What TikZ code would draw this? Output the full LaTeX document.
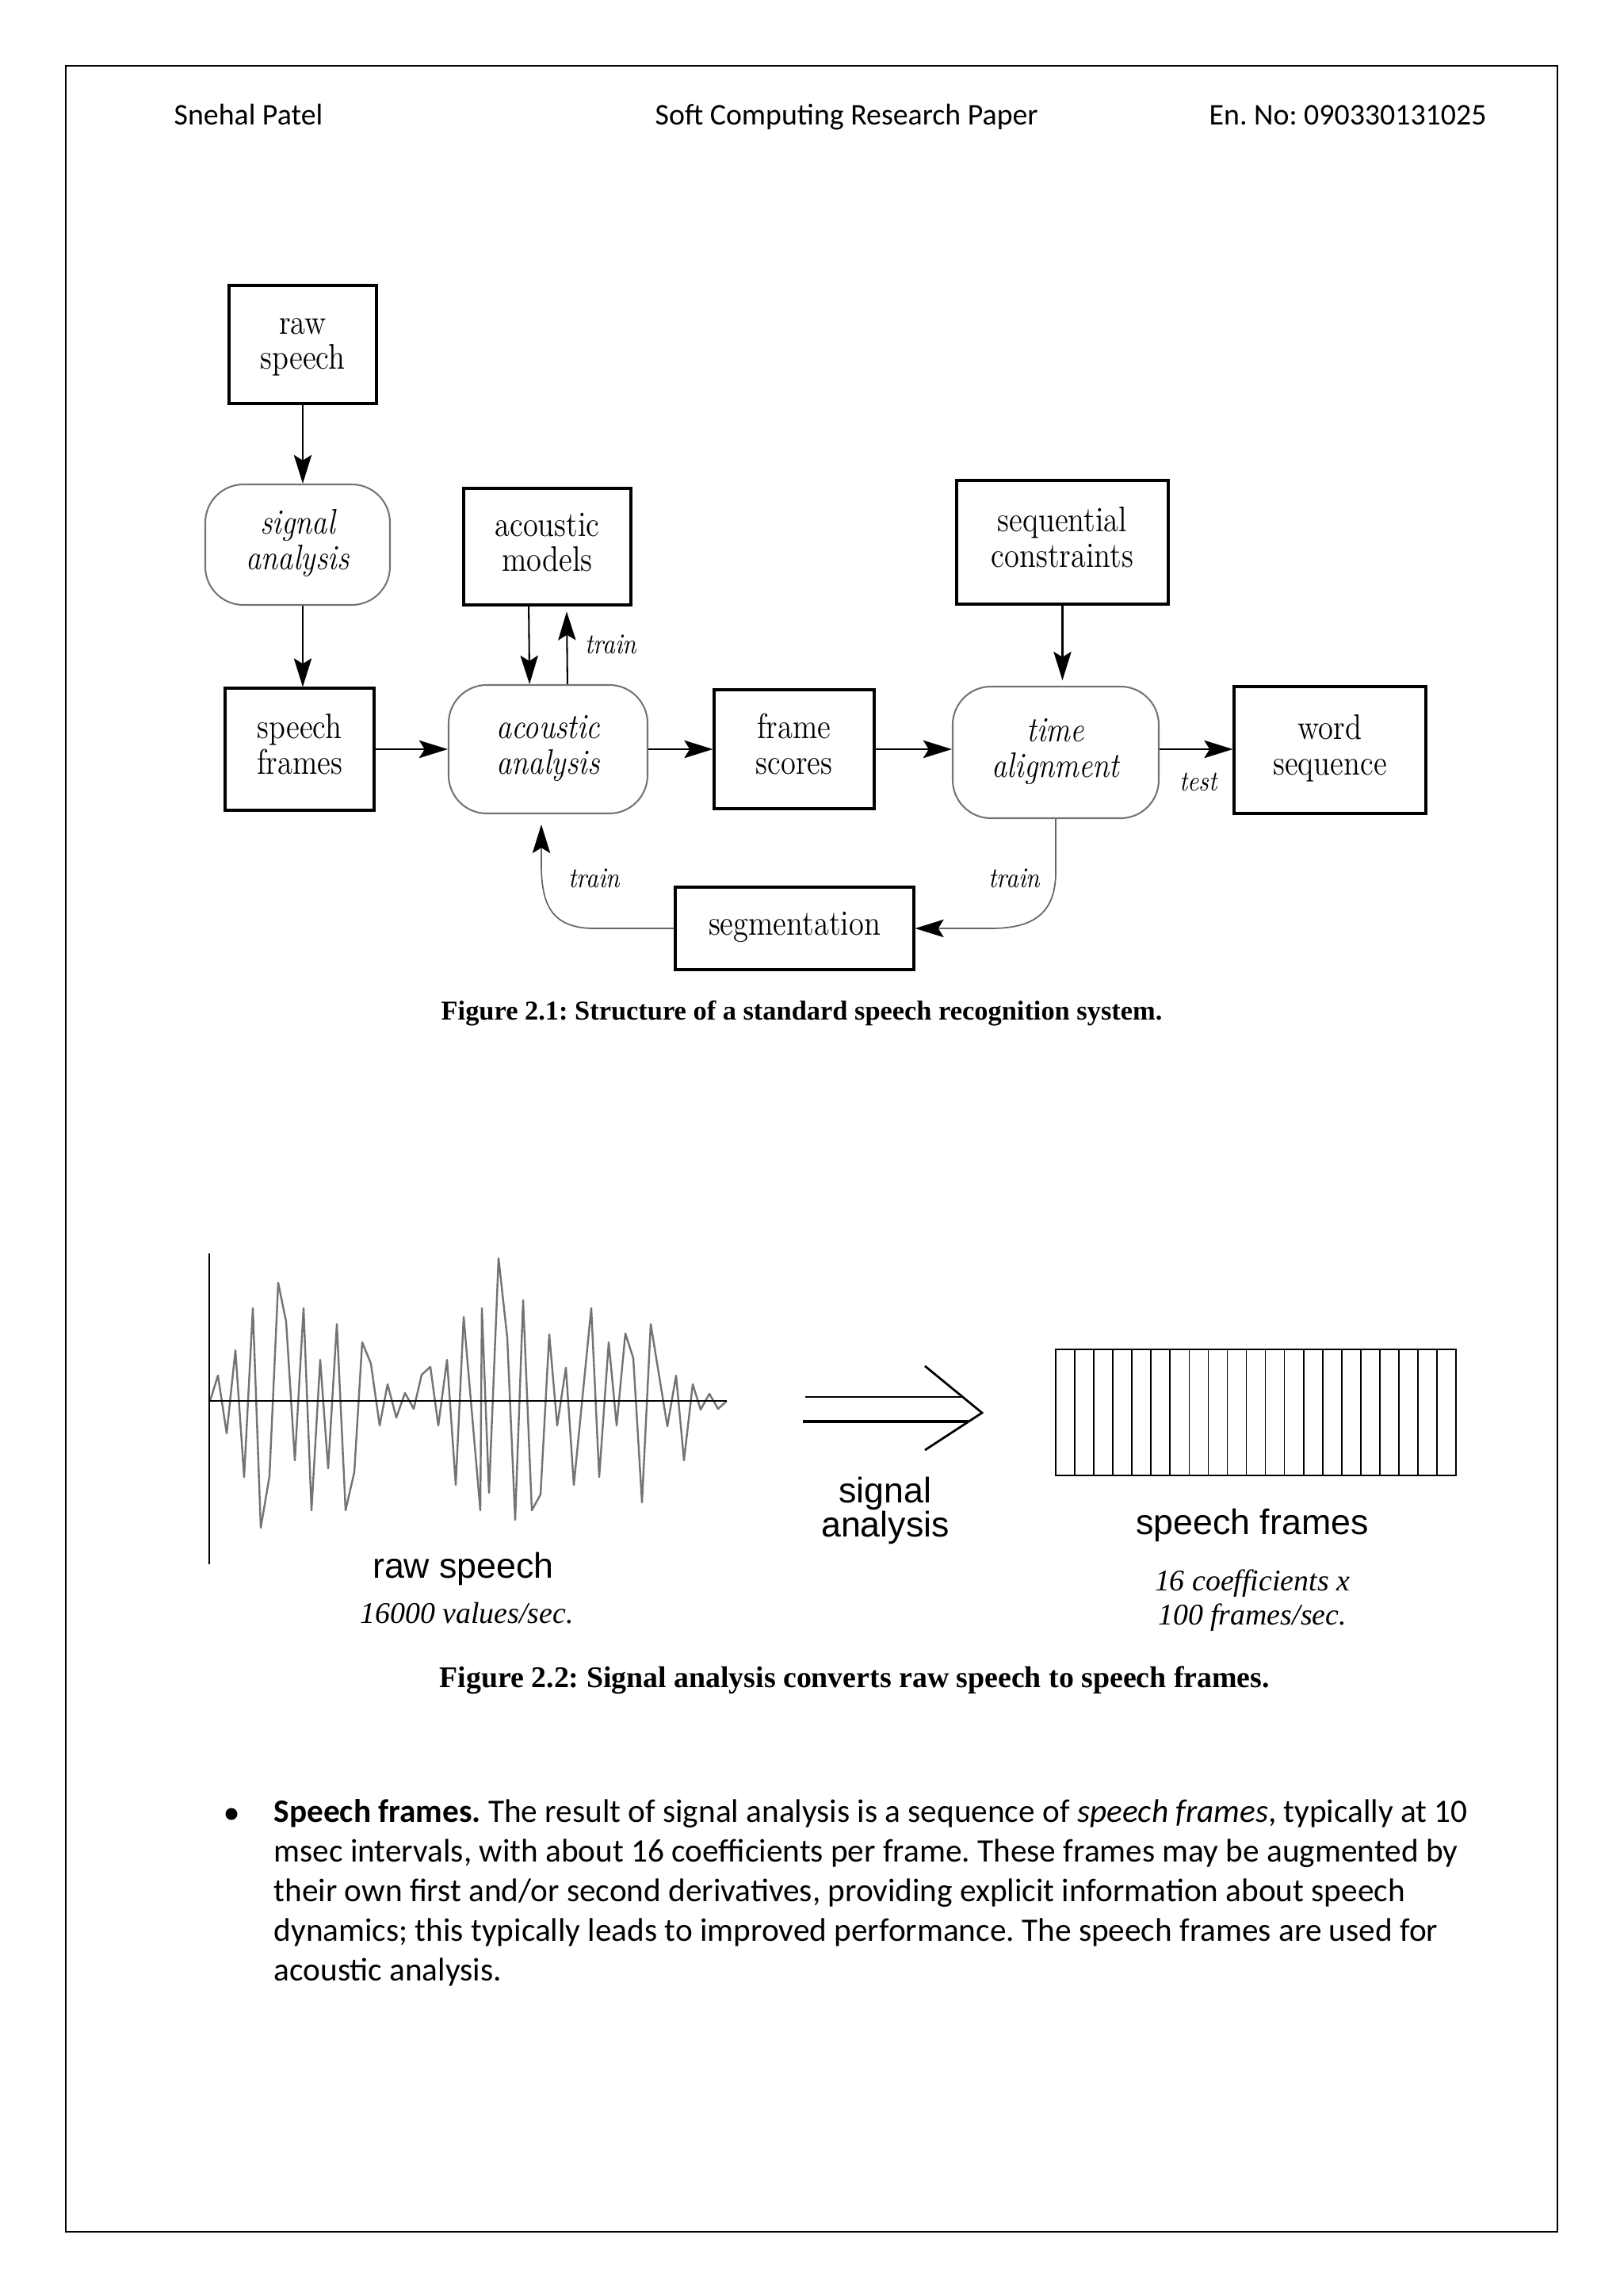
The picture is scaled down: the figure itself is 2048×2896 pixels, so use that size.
\documentclass[tikz,border=0pt]{standalone}
\usepackage{fontspec}
\usepackage{graphicx}
\usetikzlibrary{arrows.meta}
\newfontfamily\carlito{Carlito}
\newfontfamily\lsans{Liberation Sans}
\newfontfamily\lserif{Liberation Serif}
\newcommand\pxu[1]{#1*0.29066pt}
\newcommand\ntx[1]{\scalebox{0.86}[1]{\begin{tabular}{@{}c@{}}#1\end{tabular}}}
\frenchspacing
\tikzset{
  boxr/.style={draw=black, line width=0.9pt, inner sep=0pt, font=\fontsize{13}{13}\selectfont},
  boxround/.style={draw=black!55, line width=0.6pt, rounded corners=14pt, inner sep=0pt, font=\fontsize{13}{13}\selectfont\itshape},
  arr/.style={line width=0.6pt, -{Stealth[length=10.5pt,width=6.5pt,inset=2pt]}},
  trainarr/.style={draw=black!60, line width=0.5pt, -{Stealth[length=10.5pt,width=6.5pt,inset=2pt,color=black]}},
  lbl/.style={font=\fontsize{10.5}{10.5}\selectfont\itshape, inner sep=0pt},
  hdr/.style={font=\carlito\fontsize{11}{13}\selectfont\frenchspacing, anchor=base west, inner sep=0pt},
  bodyline/.style={font=\carlito\fontsize{12}{14}\selectfont\frenchspacing, anchor=base west, inner sep=0pt},
  captext/.style={font=\lserif\bfseries\fontsize{10}{12}\selectfont\frenchspacing, anchor=base west, inner sep=0pt},
  captextb/.style={font=\lserif\bfseries\fontsize{11}{13}\selectfont\frenchspacing, anchor=base west, inner sep=0pt},
  sanslbl/.style={font=\lsans\fontsize{13}{13}\selectfont, anchor=base, inner sep=0pt},
  serlbl/.style={font=\lserif\itshape\fontsize{11}{13}\selectfont\frenchspacing, anchor=base, inner sep=0pt},
  wave/.style={draw=black!55, line width=0.7pt, line join=round},
}
\begin{document}
\begin{tikzpicture}[x=0.29066pt, y=-0.29066pt]
\useasboundingbox (0,0) rectangle (2048,2896);
% page frame
\draw[line width=0.8pt] (83,83) rectangle (1965,2815);
% header
\node[hdr] (h1) at (219,157) {Snehal Patel};
\node[hdr] (h2) at (826,157) {Soft Computing Research Paper};
\node[hdr] (h3) at (1525,157) {En. No: 090330131025};

% ---------- Figure 2.1 ----------
\node[boxr, minimum width=\pxu{186}, minimum height=\pxu{149}] (rs) at (382,434.5) {\ntx{raw\\speech}};
\node[boxround, minimum width=\pxu{233}, minimum height=\pxu{152}] (sa) at (375.5,687) {\ntx{signal\\analysis}};
\node[boxr, minimum width=\pxu{188}, minimum height=\pxu{154}] (sf) at (378,945) {\ntx{speech\\frames}};
\node[boxr, minimum width=\pxu{211}, minimum height=\pxu{147}] (am) at (690.5,689.5) {\ntx{acoustic\\models}};
\node[boxround, minimum width=\pxu{251}, minimum height=\pxu{162}] (aa) at (691.5,945) {\ntx{acoustic\\analysis}};
\node[boxr, minimum width=\pxu{202}, minimum height=\pxu{150}] (fs) at (1002,945) {\ntx{frame\\scores}};
\node[boxr, minimum width=\pxu{267}, minimum height=\pxu{156}] (sc) at (1340.5,684) {\ntx{sequential\\constraints}};
\node[boxround, minimum width=\pxu{260}, minimum height=\pxu{166}] (ta) at (1332,949) {\ntx{time\\alignment}};
\node[boxr, minimum width=\pxu{242}, minimum height=\pxu{160}] (ws) at (1678,946) {\ntx{word\\sequence}};
\node[boxr, minimum width=\pxu{301}, minimum height=\pxu{104}] (seg) at (1002.5,1171) {\ntx{segmentation}};

\draw[arr] (rs.south) -- (rs.south |- sa.north);
\draw[arr] (rs.south |- sa.south) -- (rs.south |- sf.north);
\draw[arr] (sf.east) -- (aa.west);
\draw[arr] (aa.east) -- (fs.west);
\draw[arr] (fs.east) -- (fs.east -| ta.west);
\draw[arr] (fs.east -| ta.east) -- (fs.east -| ws.west);
\draw[arr] ([xshift=-6.8pt]am.south) -- ([xshift=-6.8pt]aa.north);
\draw[arr, shorten >=2pt] ([xshift=7.1pt]aa.north) -- ([xshift=7.1pt]am.south);
\draw[arr, shorten >=2pt] (sc.south) -- (sc.south |- ta.north);

\node[lbl] (ltrain1) at (771,813) {\scalebox{0.86}[1]{train}};
\node[lbl] (ltest) at (1512,986) {\scalebox{0.86}[1]{test}};
\node[lbl] (ltrain2) at (750,1108) {\scalebox{0.86}[1]{train}};
\node[lbl] (ltrain3) at (1280,1108) {\scalebox{0.86}[1]{train}};

\coordinate (trtip) at (683,1040);
\draw[trainarr] (seg.west) -- (750,1171) .. controls (695,1171) and (683,1140) .. (683,1090) -- (trtip);
\draw[trainarr] (ta.south) -- (1332,1100) .. controls (1332,1155) and (1300,1171) .. (1250,1171) -- (seg.east);

\node[captext] (cap1) at (556,1286) {Figure 2.1: Structure of a standard speech recognition system.};

% ---------- Figure 2.2 ----------
\draw[wave] (265,1767) -- (275,1735) -- (286,1808) -- (297,1703) -- (308,1863) -- (319,1650) -- (329,1927) -- (340,1862) -- (351,1618) -- (361,1667) -- (372,1842) -- (383,1650) -- (393,1905) -- (404,1715) -- (414,1852) -- (425,1670) -- (436,1905) -- (447,1857) -- (457,1693) -- (468,1720) -- (479,1798) -- (489,1746) -- (500,1788) -- (511,1757) -- (522,1777) -- (532,1734) -- (543,1724) -- (553,1798) -- (564,1715) -- (575,1873) -- (585,1661) -- (606,1905) -- (608,1650) -- (617,1883) -- (629,1587) -- (640,1687) -- (650,1917) -- (660,1640) -- (671,1905) -- (682,1885) -- (693,1683) -- (703,1798) -- (714,1725) -- (724,1873) -- (746,1650) -- (756,1863) -- (768,1693) -- (778,1798) -- (789,1682) -- (799,1713) -- (810,1895) -- (821,1670) -- (842,1799) -- (853,1735) -- (863,1842) -- (874,1746) -- (884,1778) -- (895,1758) -- (906,1777) -- (917,1767);
\draw[line width=0.7pt] (264,1581) -- (264,1973);
\draw[line width=0.8pt] (264,1767) -- (917,1767);

\node[sanslbl] (lraw) at (584.5,1990) {raw speech};
\node[serlbl] (lraw2) at (589,2047) {16000 values/sec.};

% double arrow
\draw[line width=0.75pt] (1016,1762) -- (1214,1762);
\draw[line width=1.2pt] (1013,1793) -- (1222,1793);
\draw[line width=0.8pt, line join=miter] (1167,1723) -- (1239,1782) -- (1167,1829);
\node[sanslbl] (lsig1) at (1117,1895) {signal};
\node[sanslbl] (lsig2) at (1117,1938) {analysis};

% frames
\draw[line width=0.8pt] (1332,1702) rectangle (1837,1861);
\foreach \i in {1,...,20} \draw[line width=0.5pt] ({1332+\i*24.05},1702) -- ({1332+\i*24.05},1861);
\node[sanslbl] (lsf) at (1580,1935) {speech frames};
\node[serlbl] (lsf2) at (1580,2006) {16 coefficients x};
\node[serlbl] (lsf3) at (1580,2049) {100 frames/sec.};

\node[captextb] (cap2) at (554,2128) {Figure 2.2: Signal analysis converts raw speech to speech frames.};

% ---------- bullet text ----------
\fill[black] (292,2288) circle (7.5);
\node[bodyline] (b1) at (345,2298) {\textbf{Speech frames.} The result of signal analysis is a sequence of \textit{speech frames}, typically at 10};
\node[bodyline] (b2) at (345,2348) {msec intervals, with about 16 coefficients per frame. These frames may be augmented by};
\node[bodyline] (b3) at (345,2398) {their own first and/or second derivatives, providing explicit information about speech};
\node[bodyline] (b4) at (345,2448) {dynamics; this typically leads to improved performance. The speech frames are used for};
\node[bodyline] (b5) at (345,2498) {acoustic analysis.};
\end{tikzpicture}
\end{document}
